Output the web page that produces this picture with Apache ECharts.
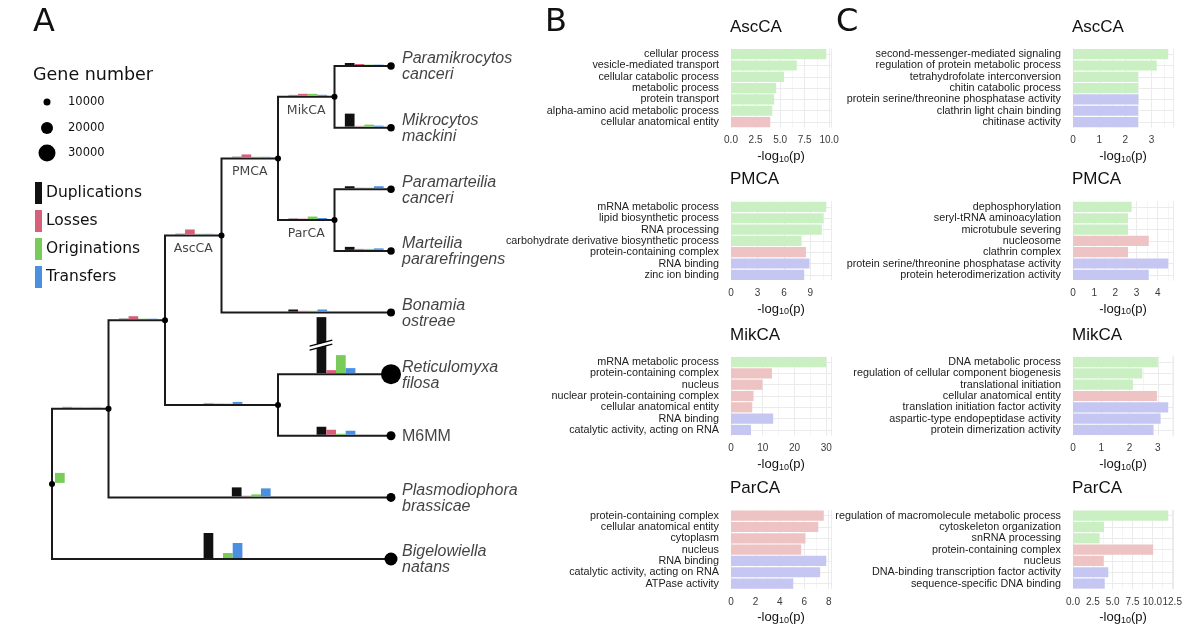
<!DOCTYPE html>
<html><head><meta charset="utf-8">
<script src="https://cdn.jsdelivr.net/npm/echarts@6/dist/echarts.min.js"></script>
<style>html,body{margin:0;padding:0;background:#fff}#c{width:1200px;height:638px}</style>
</head><body><div id="c"></div>
<script>
// ================= Panel A : tree data =================
const treeNodes  = ['root','n1','n2','AscCA','PMCA','MikCA','ParCA','RetM6','Pmik','Mmac','Pcan','Mpar','Bost','Rfil','M6MM','Pbra','Bnat'];
const treeParent = [null,'root','n1','n2','AscCA','PMCA','PMCA','n2','MikCA','MikCA','ParCA','ParCA','AscCA','RetM6','RetM6','n1','root'];
const treeDepth  = [0,1,2,3,4,5,5,4,6,6,6,6,6,6,6,6,6];
const leafOrder  = ['Pmik','Mmac','Pcan','Mpar','Bost','Rfil','M6MM','Pbra','Bnat'];
const leafLabels = ['Paramikrocytos\ncanceri','Mikrocytos\nmackini','Paramarteilia\ncanceri','Marteilia\npararefringens','Bonamia\nostreae','Reticulomyxa\nfilosa','M6MM','Plasmodiophora\nbrassicae','Bigelowiella\nnatans'];
const leafItalic = [true,true,true,true,true,true,false,true,true];
const geneNumber = [11000,11000,11000,11000,12000,36000,14000,14000,22000];
const cladeNodes = ['MikCA','PMCA','ParCA','AscCA'];
const geneLegend = [10000,20000,30000];
const eventNames = ['Duplications','Losses','Originations','Transfers'];
// events along the branch leading to each node (relative counts)
const eventBranches = ['n1','n2','AscCA','PMCA','MikCA','ParCA','RetM6','Pmik','Mmac','Pcan','Mpar','Bost','Rfil','M6MM','Pbra','Bnat'];
const duplications  = [0.5,0.5,0.5,0.5,0.5,0.5,0.5,2,13,2,3,2,200,8,9,25];
const losses        = [0.5,3,5,3,2,0.5,0.5,1,0.5,0.7,1,0.5,3,5,0.5,0];
const originations  = [0.5,0.5,0.5,0.5,2,2.5,0.5,0.5,2,0.5,1,0.5,18,1,2,5];
const transfers     = [0.5,0.5,0.5,0.5,1,1,2,0.5,1,2,1.5,2,5,4,8,15];
const rootOriginations = 10;

// ================= Panels B / C : GO enrichment =================
const B_AscCA_terms = ['cellular process','vesicle-mediated transport','cellular catabolic process','metabolic process','protein transport','alpha-amino acid metabolic process','cellular anatomical entity'];
const B_AscCA_vals  = [9.7,6.7,5.4,4.6,4.4,4.2,4.0];
const B_AscCA_types = ['BP','BP','BP','BP','BP','BP','CC'];
const B_PMCA_terms = ['mRNA metabolic process','lipid biosynthetic process','RNA processing','carbohydrate derivative biosynthetic process','protein-containing complex','RNA binding','zinc ion binding'];
const B_PMCA_vals  = [10.8,10.5,10.3,8.0,8.5,8.9,8.3];
const B_PMCA_types = ['BP','BP','BP','BP','CC','MF','MF'];
const B_MikCA_terms = ['mRNA metabolic process','protein-containing complex','nucleus','nuclear protein-containing complex','cellular anatomical entity','RNA binding','catalytic activity, acting on RNA'];
const B_MikCA_vals  = [30.0,12.9,9.9,7.1,6.7,13.3,6.3];
const B_MikCA_types = ['BP','CC','CC','CC','CC','MF','MF'];
const B_ParCA_terms = ['protein-containing complex','cellular anatomical entity','cytoplasm','nucleus','RNA binding','catalytic activity, acting on RNA','ATPase activity'];
const B_ParCA_vals  = [7.6,7.15,6.1,5.75,7.8,7.3,5.1];
const B_ParCA_types = ['CC','CC','CC','CC','MF','MF','MF'];

const C_AscCA_terms = ['second-messenger-mediated signaling','regulation of protein metabolic process','tetrahydrofolate interconversion','chitin catabolic process','protein serine/threonine phosphatase activity','clathrin light chain binding','chitinase activity'];
const C_AscCA_vals  = [3.64,3.2,2.49,2.49,2.5,2.49,2.49];
const C_AscCA_types = ['BP','BP','BP','BP','MF','MF','MF'];
const C_PMCA_terms = ['dephosphorylation','seryl-tRNA aminoacylation','microtubule severing','nucleosome','clathrin complex','protein serine/threonine phosphatase activity','protein heterodimerization activity'];
const C_PMCA_vals  = [2.77,2.6,2.6,3.58,2.6,4.5,3.58];
const C_PMCA_types = ['BP','BP','BP','CC','CC','MF','MF'];
const C_MikCA_terms = ['DNA metabolic process','regulation of cellular component biogenesis','translational initiation','cellular anatomical entity','translation initiation factor activity','aspartic-type endopeptidase activity','protein dimerization activity'];
const C_MikCA_vals  = [3.0,2.45,2.12,2.97,3.37,3.1,2.85];
const C_MikCA_types = ['BP','BP','BP','CC','MF','MF','MF'];
const C_ParCA_terms = ['regulation of macromolecule metabolic process','cytoskeleton organization','snRNA processing','protein-containing complex','nucleus','DNA-binding transcription factor activity','sequence-specific DNA binding'];
const C_ParCA_vals  = [12.0,3.9,3.36,10.1,3.87,4.45,4.0];
const C_ParCA_types = ['BP','BP','BP','CC','CC','MF','MF'];

const panelTitles = ['AscCA','PMCA','MikCA','ParCA'];
const B_intervals = [2.5,3,10,2];
const C_intervals = [1,1,1,2.5];

// ================= styling =================
const SANS = 'Liberation Sans, Arial, Helvetica, sans-serif';
const DJV = 'DejaVu Sans, Verdana, sans-serif';
const typeColors = {BP:'#c9efc3', CC:'#eec3c3', MF:'#c6c6f3'};
const eventColors = ['#111111','#d6607a','#7acc5a','#4b8fe0'];
const eventPx = 1, eventCap = 56;
const sizeFn = g => 2 + 0.5 * g / 1000;

// ---- tree layout ----
const idx = n => treeNodes.indexOf(n);
const nodeY = {};
leafOrder.forEach((n,i)=>{ nodeY[n]=i; });
function yOf(n){
  if (nodeY[n] !== undefined) return nodeY[n];
  const kids = treeNodes.filter((m,j)=>treeParent[j]===n);
  const v = kids.map(yOf).reduce((a,b)=>a+b,0)/kids.length;
  nodeY[n]=v; return v;
}
treeNodes.forEach(yOf);
const depthOf = n => treeDepth[idx(n)];

const edgeData = treeNodes.map((n,j)=>{
  const p = treeParent[j]; if(!p) return null;
  return {coords:[[depthOf(p),nodeY[p]],[depthOf(p),nodeY[n]],[depthOf(n),nodeY[n]]]};
}).filter(Boolean);
const rootStem = [{coords:[[-0.28,nodeY.root-0.03],[-0.1,nodeY.root-0.03]]}];
const internalDots = treeNodes.filter(n=>leafOrder.indexOf(n)<0).map(n=>[depthOf(n),nodeY[n]]);
const tipDots = leafOrder.map((n,i)=>({value:[depthOf(n),nodeY[n]], symbolSize:sizeFn(geneNumber[i])}));
const tipLabels = leafOrder.map((n,i)=>({value:[depthOf(n),nodeY[n]], name:leafLabels[i],
  label:{fontStyle: leafItalic[i]?'italic':'normal'}}));
const cladeLabelData = cladeNodes.map(n=>{
  const p = treeParent[idx(n)];
  return {value:[(depthOf(p)+depthOf(n))/2, nodeY[n]], name:n};
});
const eventData = eventBranches.map((n,k)=>{
  const p = treeParent[idx(n)];
  return [(depthOf(p)+depthOf(n))/2, nodeY[n], duplications[k], losses[k], originations[k], transfers[k]];
});

function renderEvents(params, api){
  const p = api.coord([api.value(0), api.value(1)]);
  const w = 9.7, x0 = p[0] - 2*w + 1.5, base = p[1] - 1;
  const ch = [];
  for (let k=0;k<4;k++){
    const v = api.value(2+k);
    if (!(v>0)) continue;
    let h = v*eventPx, op = 1, capped = false;
    if (v < 1){ h = 1; op = 0.35; }
    if (h > eventCap){ h = eventCap; capped = true; }
    const bx = x0 + k*w;
    ch.push({type:'rect', shape:{x:bx, y:base-h, width:w, height:h}, style:{fill:eventColors[k], opacity:op}});
    if (capped){
      const by = base - 28;
      ch.push({type:'polygon', shape:{points:[[bx-7,by+1],[bx+w+6,by-5],[bx+w+6,by-1],[bx-7,by+5]]}, style:{fill:'#fff'}});
      ch.push({type:'line', shape:{x1:bx-7,y1:by+1,x2:bx+w+6,y2:by-5}, style:{stroke:'#000',lineWidth:1.3}});
      ch.push({type:'line', shape:{x1:bx-7,y1:by+5,x2:bx+w+6,y2:by-1}, style:{stroke:'#000',lineWidth:1.3}});
    }
  }
  return {type:'group', children:ch};
}
function renderRoot(params, api){
  const p = api.coord([api.value(0), api.value(1)]);
  const h = api.value(2)*eventPx;
  return {type:'rect', shape:{x:p[0]+3, y:p[1]-1-h, width:9.7, height:h}, style:{fill:eventColors[2]}};
}

// ---- option ----
const grids = [{left:52, top:66, width:339, height:493, outerBoundsMode:'none', containLabel:false}];
const xAxes = [{type:'value', gridIndex:0, min:0, max:6, show:false}];
const yAxes = [{type:'value', gridIndex:0, min:0, max:8, inverse:true, show:false}];
const series = [
  {type:'lines', coordinateSystem:'cartesian2d', xAxisIndex:0, yAxisIndex:0, polyline:true, data:edgeData,
   lineStyle:{color:'#1a1a1a', width:2, opacity:1}, silent:true, z:3},
  {type:'lines', coordinateSystem:'cartesian2d', xAxisIndex:0, yAxisIndex:0, polyline:true, data:rootStem,
   lineStyle:{color:'#1a1a1a', width:2, opacity:1}, silent:true, z:3},
  {type:'custom', xAxisIndex:0, yAxisIndex:0, data:eventData, renderItem:renderEvents, encode:{x:0,y:1}, silent:true, z:4},
  {type:'custom', xAxisIndex:0, yAxisIndex:0, data:[[0,nodeY.root,rootOriginations]], renderItem:renderRoot, encode:{x:0,y:1}, silent:true, z:4},
  {type:'scatter', xAxisIndex:0, yAxisIndex:0, data:internalDots, symbolSize:6, itemStyle:{color:'#000', opacity:1}, silent:true, z:5},
  {type:'scatter', xAxisIndex:0, yAxisIndex:0, data:tipDots, itemStyle:{color:'#000', opacity:1}, silent:true, z:5},
  {type:'scatter', xAxisIndex:0, yAxisIndex:0, data:tipLabels, symbolSize:0, silent:true, z:6,
   label:{show:true, position:'right', distance:11, formatter:p=>p.name, fontFamily:SANS, fontSize:16, lineHeight:16, color:'#111', offset:[0,1]}},
  {type:'scatter', xAxisIndex:0, yAxisIndex:0, data:cladeLabelData, symbolSize:0, silent:true, z:6,
   label:{show:true, position:'bottom', distance:7, formatter:p=>p.name, fontFamily:DJV, fontSize:12.5, color:'#111'}}
];

const titles = [];
const rowTops = [48.5, 201.3, 356.4, 510];
const panelH = 79.2;
function addPanel(leftPx, top, terms, vals, types, iv, title){
  const gi = grids.length;
  const dec = (iv % 1 !== 0);
  grids.push({left:leftPx, top:top, width:100, height:panelH, outerBoundsMode:'none', containLabel:false});
  xAxes.push({type:'value', gridIndex:gi, min:0, max:1.05*Math.max(...vals), interval:iv,
    axisLine:{show:false}, axisTick:{show:false},
    splitLine:{show:true, lineStyle:{color:'#ebebeb', width:1}},
    minorTick:{show:false, splitNumber:2},
    minorSplitLine:{show:true, lineStyle:{color:'#f5f5f5', width:1}},
    axisLabel:{fontFamily:SANS, fontSize:10, color:'#3a3a3a', margin:8,
      formatter:v=>{const r=v/iv; return Math.abs(r-Math.round(r))<1e-6 ? (dec? v.toFixed(1): String(Math.round(v))) : '';}},
    name:'-log{s|10}(p)', nameLocation:'middle', nameGap:21,
    nameTextStyle:{fontFamily:SANS, fontSize:13, color:'#111', lineHeight:15,
      rich:{s:{fontFamily:SANS, fontSize:9, color:'#111', verticalAlign:'bottom', padding:[7,0,0,0], lineHeight:15}}}
  });
  yAxes.push({type:'category', gridIndex:gi, data:terms, inverse:true,
    axisLine:{show:false}, axisTick:{show:false}, splitLine:{show:false},
    axisLabel:{fontFamily:SANS, fontSize:10.8, color:'#222', margin:12, interval:0}});
  series.push({type:'line', xAxisIndex:gi, yAxisIndex:gi, data:[], silent:true, z:1,
    markLine:{silent:true, symbol:['none','none'], label:{show:false}, animation:false,
      lineStyle:{color:'#ebebeb', width:1, type:'solid'}, data:terms.map(t=>({yAxis:t}))}});
  series.push({type:'bar', xAxisIndex:gi, yAxisIndex:gi, barCategoryGap:'10%', silent:true, z:2, zlevel:1,
    data:vals.map((v,j)=>({value:v, itemStyle:{color:typeColors[types[j]]}}))});
  titles.push({text:title, left:leftPx-1, top:top-30, padding:0,
    textStyle:{fontFamily:SANS, fontSize:17, fontWeight:'normal', color:'#111'}});
}
const Bsets = [[B_AscCA_terms,B_AscCA_vals,B_AscCA_types],[B_PMCA_terms,B_PMCA_vals,B_PMCA_types],[B_MikCA_terms,B_MikCA_vals,B_MikCA_types],[B_ParCA_terms,B_ParCA_vals,B_ParCA_types]];
const Csets = [[C_AscCA_terms,C_AscCA_vals,C_AscCA_types],[C_PMCA_terms,C_PMCA_vals,C_PMCA_types],[C_MikCA_terms,C_MikCA_vals,C_MikCA_types],[C_ParCA_terms,C_ParCA_vals,C_ParCA_types]];
Bsets.forEach((s,i)=>addPanel(731, rowTops[i], s[0], s[1], s[2], B_intervals[i], panelTitles[i]));
Csets.forEach((s,i)=>addPanel(1073, rowTops[i], s[0], s[1], s[2], C_intervals[i], panelTitles[i]));

// ---- legends & panel letters (graphic) ----
const graphic = [];
[['A',33],['B',545],['C',836]].forEach(([t,x])=>graphic.push({type:'text', left:x, top:7,
  style:{text:t, font:'32px '+DJV, fill:'#111'}}));
graphic.push({type:'text', left:33, top:66, style:{text:'Gene number', font:'17.5px '+DJV, fill:'#111'}});
const legY = [102,128,153];
geneLegend.forEach((g,i)=>{
  graphic.push({type:'circle', shape:{cx:47, cy:legY[i], r:sizeFn(g)/2}, style:{fill:'#000'}});
  graphic.push({type:'text', x:68, y:legY[i], style:{text:String(g), font:'11.5px '+DJV, fill:'#111', textVerticalAlign:'middle'}});
});
const evY = [193,221,249,277];
eventNames.forEach((t,i)=>{
  graphic.push({type:'rect', shape:{x:35, y:evY[i]-11, width:7, height:22}, style:{fill:eventColors[i]}});
  graphic.push({type:'text', x:46, y:evY[i], style:{text:t, font:'15.5px '+DJV, fill:'#111', textVerticalAlign:'middle'}});
});

const chart = echarts.init(document.getElementById('c'), null, {renderer:'canvas'});
chart.setOption({
  animation:false, backgroundColor:'#fff',
  textStyle:{fontFamily:SANS},
  title:titles, grid:grids, xAxis:xAxes, yAxis:yAxes, series:series, graphic:graphic
});
</script></body></html>
